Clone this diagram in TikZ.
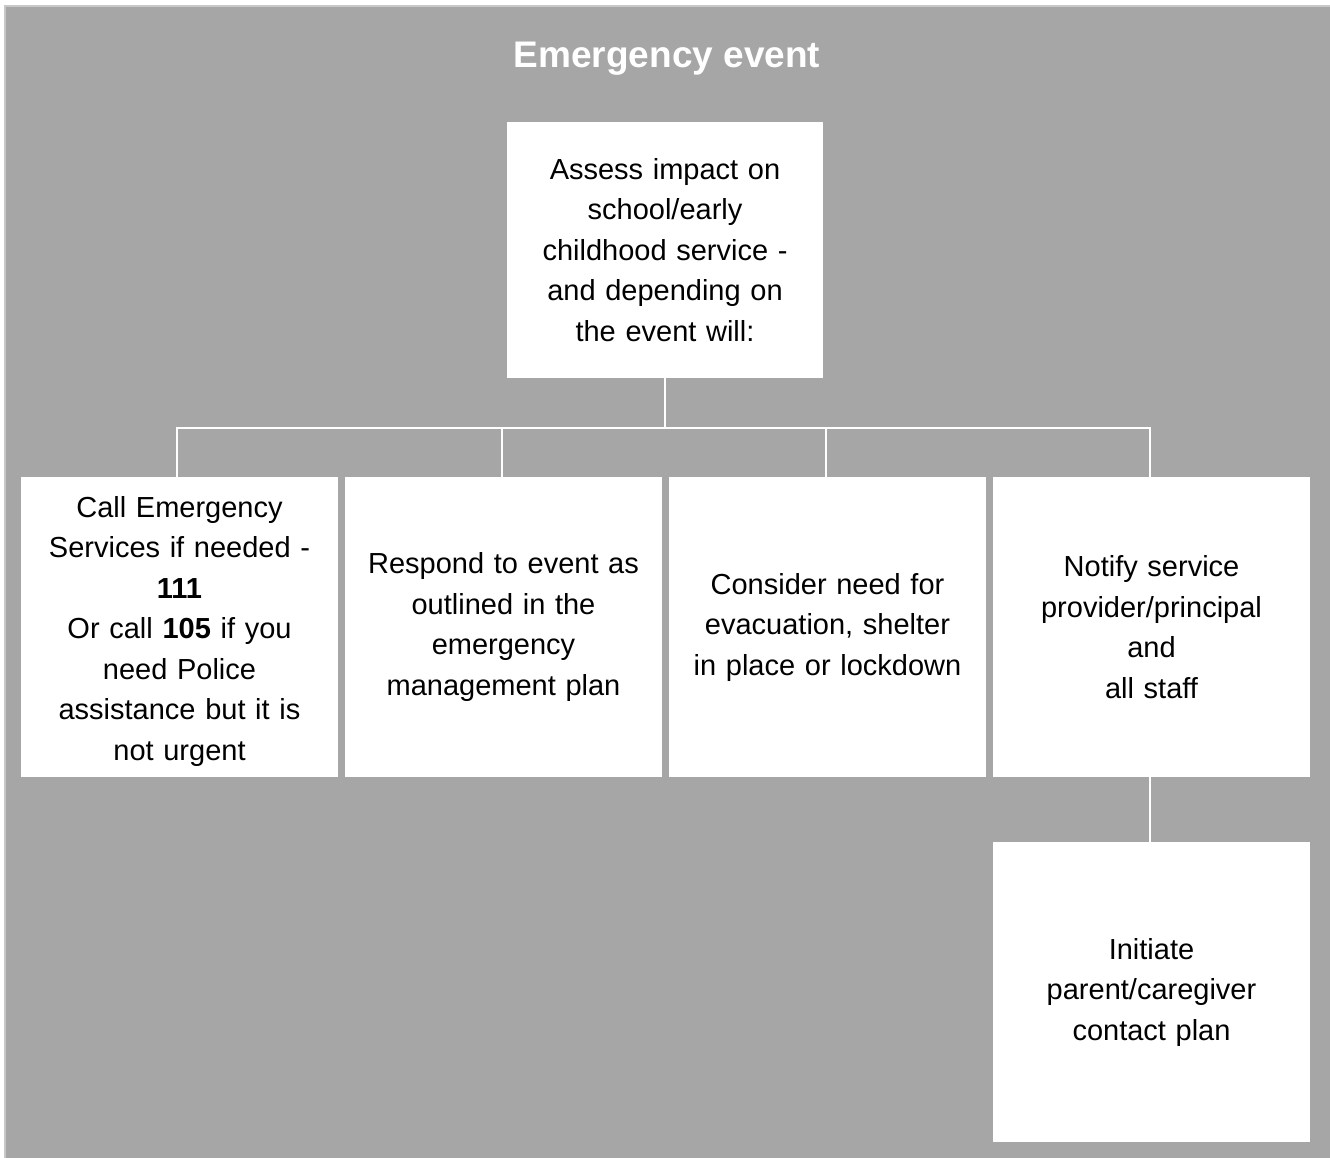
\documentclass[tikz,border=0pt]{standalone}
\usepackage{fontspec}
\setmainfont{Liberation Sans}
\definecolor{bg}{HTML}{A6A6A6}
\definecolor{rim}{HTML}{C8C8C8}
\begin{document}
\begin{tikzpicture}[x=1pt,y=-1pt,
  card/.style={fill=white, draw=none, minimum width=317pt, minimum height=300pt, inner sep=0pt, align=center, font=\fontsize{29}{40.5}\selectfont, text width=310pt},
  link/.style={draw=white, line width=2pt}]
\useasboundingbox (0,0) rectangle (1330,1158);
\fill[white] (0,0) rectangle (1330,1158);
\fill[bg, draw=rim, line width=2pt] (5,6) rectangle (1331,1160);
\node[font=\bfseries\fontsize{37}{44}\selectfont, text=white] (title) at (667,59) {Emergency event};
\node[card, minimum width=316pt, minimum height=256pt, text width=300pt] (assess) at (665,250)
  {Assess impact on\\school/early\\childhood service -\\and depending on\\the event will:};
\node[card, minimum height=300pt] (call) at (179.5,627) {};
\node[align=center, font=\fontsize{29}{40.5}\selectfont, text width=310pt, inner sep=0pt] (calltext) at (179.5,631) {Call Emergency\\Services if needed -\\\textbf{111}\\Or call \textbf{105} if you\\need Police\\assistance but it is\\not urgent};
\node[card] (respond) at (503.5,627) {Respond to event as\\outlined in the\\emergency\\management plan};
\node[card] (consider) at (827.5,627) {Consider need for\\evacuation, shelter\\in place or lockdown};
\node[card] (notify) at (1151.5,627) {Notify service\\provider/principal\\and\\ all staff};
\node[card] (initiate) at (1151.5,992) {Initiate\\parent/caregiver\\contact plan};
\coordinate (bus) at (665,428);
\draw[link] (assess.south) -- (bus);
\draw[link] (call.north -| 177,0) |- (bus) -| (notify.north -| 1150,0);
\draw[link] (respond.north -| 502,0) -- (502,428);
\draw[link] (consider.north -| 826,0) -- (826,428);
\draw[link] (notify.south -| 1150,0) -- (initiate.north -| 1150,0);
\end{tikzpicture}
\end{document}
